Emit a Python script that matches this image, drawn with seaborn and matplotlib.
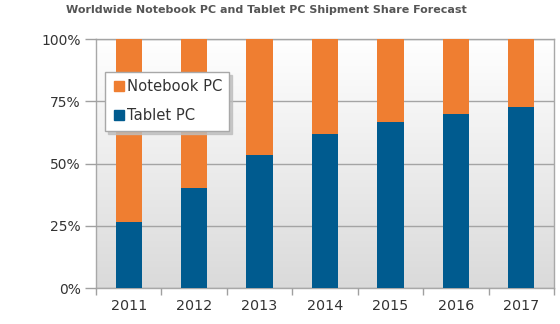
import numpy as np
import pandas as pd
import matplotlib
matplotlib.use("Agg")
import matplotlib.pyplot as plt
import seaborn as sns
from matplotlib.lines import Line2D
from matplotlib.ticker import FixedLocator

years = ["2011", "2012", "2013", "2014", "2015", "2016", "2017"]
tablet = [26.5, 40.3, 53.4, 61.8, 66.8, 70.0, 72.7]
notebook = [73.5, 59.7, 46.6, 38.2, 33.2, 30.0, 27.3]
yticks = [0, 25, 50, 75, 100]
ytick_labels = ["0%", "25%", "50%", "75%", "100%"]

orange = "#EF7E31"
blue = "#005B8F"

sns.set_theme(style="white")
plt.rcParams["font.family"] = ["DejaVu Sans"]

df = pd.DataFrame({"year": years, "tablet": tablet, "notebook": notebook})
df["total"] = df["tablet"] + df["notebook"]

fig = plt.figure(figsize=(5.6, 3.24), dpi=100)
ax = fig.add_axes([96 / 560, 36 / 324, 458 / 560, 249 / 324])

# gradient background
grad = np.linspace(0, 1, 256).reshape(-1, 1)
ax.imshow(grad, extent=(-0.5, 6.5, 0, 100), aspect="auto",
          cmap=matplotlib.colors.LinearSegmentedColormap.from_list("g", ["#DADADA", "#FFFFFF"]),
          origin="lower", zorder=0)

sns.barplot(data=df, x="year", y="total", color=orange, width=0.4,
            saturation=1, ax=ax, zorder=3, edgecolor="none")
sns.barplot(data=df, x="year", y="tablet", color=blue, width=0.4,
            saturation=1, ax=ax, zorder=4, edgecolor="none")

ax.set_xlim(-0.5, 6.5)
ax.set_ylim(0, 100)
ax.set_yticks(yticks)
ax.set_yticklabels(ytick_labels)
ax.yaxis.grid(True, color="#A4A4A4", linewidth=1, zorder=1)
ax.set_axisbelow(False)
for gl in ax.get_ygridlines():
    gl.set_zorder(1)
ax.set_xlabel("")
ax.set_ylabel("")

ax.xaxis.set_minor_locator(FixedLocator(np.arange(-0.5, 7, 1.0)))
ax.tick_params(axis="x", which="major", length=0, labelsize=10.3, labelcolor="#333333", pad=8)
ax.tick_params(axis="x", which="minor", length=5, color="#A0A0A0", width=1, direction="out", bottom=True)
ax.tick_params(axis="y", which="major", length=8, color="#A0A0A0", width=1, direction="out",
               left=True, labelsize=10, labelcolor="#333333", pad=3)

for s in ax.spines.values():
    s.set_color("#A8A8A8")
    s.set_linewidth(1)
    s.set_visible(True)

handles = [Line2D([], [], marker="s", linestyle="none", color=orange, markersize=6.5),
           Line2D([], [], marker="s", linestyle="none", color=blue, markersize=6.5)]
leg = ax.legend(handles, ["Notebook PC", "Tablet PC"], loc="upper left",
                bbox_to_anchor=(0.02, 0.867), borderaxespad=0, frameon=True,
                fancybox=False, shadow={"color": "#BDBDBD", "alpha": 0.8},
                fontsize=10.6, handletextpad=0.05,
                labelspacing=0.95, borderpad=0.5, handlelength=0.9)
leg.get_frame().set_edgecolor("#A8A8A8")
leg.get_frame().set_facecolor("white")
leg.set_zorder(10)
for t in leg.get_texts():
    t.set_color("#333333")

fig.text(0.475, 0.97, "Worldwide Notebook PC and Tablet PC Shipment Share Forecast",
         ha="center", va="center", fontsize=8.05, fontweight="bold", color="#555555")

fig.savefig("out.png", dpi=100)
